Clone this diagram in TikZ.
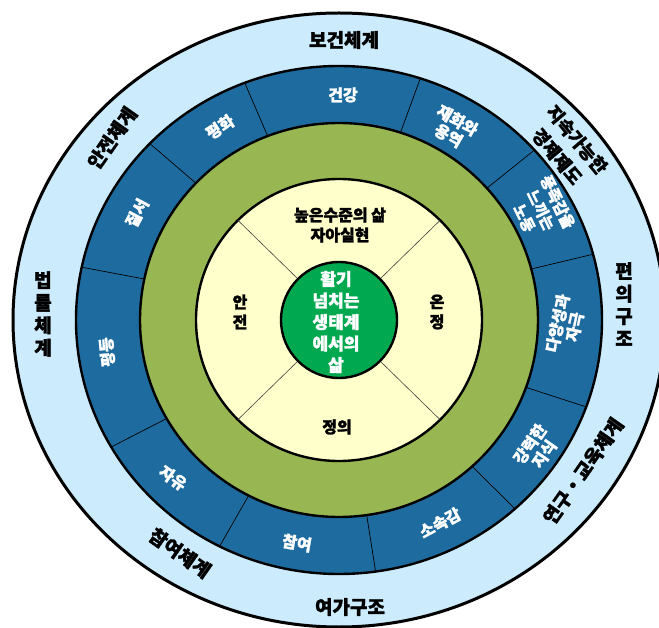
\documentclass[tikz,border=0pt]{standalone}
\usepackage{fontspec}
\setmainfont{Noto Sans CJK KR}[BoldFeatures={FakeBold=1.6}]
\definecolor{ringsky}{HTML}{CCECFD}
\definecolor{ringblue}{HTML}{1E6C9F}
\definecolor{ringolive}{HTML}{98B651}
\definecolor{ringcream}{HTML}{FFFFCC}
\definecolor{coregreen}{HTML}{00A84F}
\tikzset{
  otxt/.style={text=black,font=\bfseries\fontsize{19}{22.5}\selectfont,align=center,inner sep=0pt},
  btxt/.style={text=white,font=\bfseries\fontsize{16}{17.5}\selectfont,align=center,inner sep=0pt},
  ctxt/.style={text=black,font=\bfseries\fontsize{16}{20}\selectfont,align=center,inner sep=0pt},
  gtxt/.style={text=white,font=\bfseries\fontsize{17}{21.5}\selectfont,align=center,inner sep=0pt},
  ringline/.style={draw=black,line width=2.4pt},
  divline/.style={draw=black,line width=0.7pt},
  cdivline/.style={draw=black!75,line width=0.6pt}
}
\begin{document}
\begin{tikzpicture}[x=1pt,y=1pt]
\useasboundingbox (0,0) rectangle (659,-628);
\clip (0,0) rectangle (659,-628);
\begin{scope}[shift={(339,-320)}]
  \filldraw[fill=ringsky,ringline,line width=3pt] (0,0) ellipse [x radius=326pt, y radius=307pt];
  \filldraw[fill=ringblue,ringline] (0,0) ellipse [x radius=263pt, y radius=254pt];
  \filldraw[fill=ringolive,ringline] (0,0) ellipse [x radius=199pt, y radius=197pt];
  \filldraw[fill=ringcream,ringline] (0,0) ellipse [x radius=143pt, y radius=141pt];
  \foreach \a in {111,72,42,15,-20,-48,-82,-117,-150,168,136}
    \draw[divline] (\a:199pt and 197pt) -- (\a:263pt and 254pt);
  \foreach \a in {45,135,225,315}
    \draw[cdivline] (\a:58pt) -- (\a:143pt and 141pt);
  \filldraw[fill=coregreen,ringline] (0,0) circle [radius=58pt];
\end{scope}
% outer ring
\node[otxt] (o1) at (344,-40) {보건체계};
\node[otxt,rotate=-50,font=\bfseries\fontsize{18}{26}\selectfont] (o2) at (567,-148) {지속가능한\\경제제도};
\node[otxt] (o3) at (624,-304) {편\\의\\구\\조};
\node[otxt,rotate=55] (o4) at (583,-471) {연구・교육체계};
\node[otxt] (o5) at (350,-607) {여가구조};
\node[otxt,rotate=-35] (o6) at (180,-553) {참여체계};
\node[otxt] (o7) at (43,-314) {법\\률\\체\\계};
\node[otxt,rotate=55] (o8) at (112,-138) {안전체계};
% blue ring
\node[btxt] (b1) at (343,-95) {건강};
\node[btxt,rotate=-30] (b2) at (453,-128) {재화와\\용역};
\node[btxt,rotate=-64,font=\bfseries\fontsize{15.5}{18.5}\selectfont] (b3) at (541,-210) {풍족감을\\느끼는\\노동};
\node[btxt,rotate=78] (b4) at (566,-325) {다양성과\\자극};
\node[btxt,rotate=55] (b5) at (537,-449) {강력한\\지식};
\node[btxt,rotate=28] (b6) at (440,-523) {소속감};
\node[btxt,rotate=-10] (b7) at (297,-543) {참여};
\node[btxt,rotate=-35] (b8) at (173,-478) {자유};
\node[btxt,rotate=95] (b9) at (107,-352) {평등};
\node[btxt,rotate=62] (b10) at (137,-213) {질서};
\node[btxt,rotate=33] (b11) at (220,-127) {평화};
% cream ring
\node[ctxt] (c1) at (340,-225) {높은수준의 삶\\자아실현};
\node[ctxt] (c2) at (240,-312) {안\\전};
\node[ctxt] (c3) at (437,-312) {온\\정};
\node[ctxt] (c4) at (337,-427) {정의};
% core
\node[gtxt] (g1) at (336,-322) {활기\\넘치는\\생태계\\에서의\\삶};
\end{tikzpicture}
\end{document}
